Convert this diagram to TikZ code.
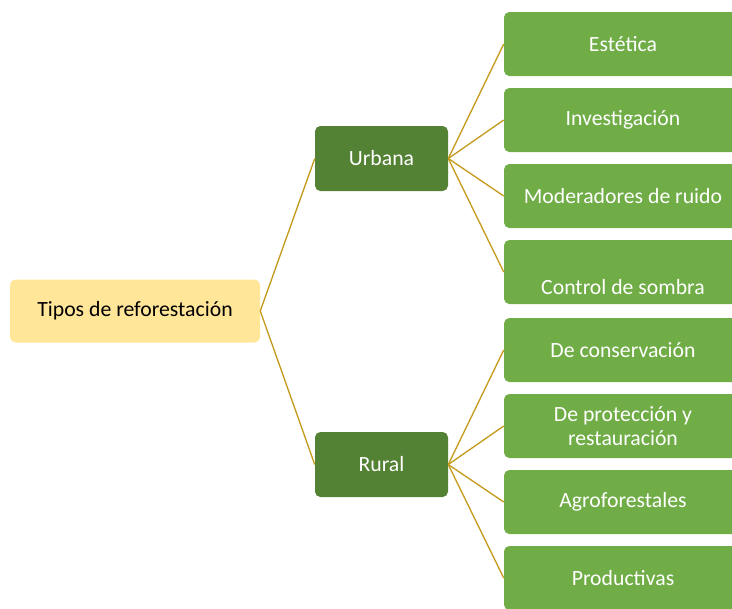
\documentclass[tikz,border=0pt]{standalone}
\usepackage{fontspec}
\setmainfont{Carlito}

\definecolor{rootfill}{RGB}{255,230,153}
\definecolor{midfill}{RGB}{84,130,53}
\definecolor{leaffill}{RGB}{112,173,71}
\definecolor{linkgold}{RGB}{197,155,30}

\begin{document}
\begin{tikzpicture}[x=0.75pt, y=-0.75pt,
    base/.style={rounded corners=4pt, inner sep=0pt, align=center, font=\fontsize{16.3}{18.5}\selectfont},
    rootbox/.style={base, fill=rootfill, text=black, minimum width=187.5pt, minimum height=47.25pt},
    midbox/.style={base, fill=midfill, text=white, minimum width=99.75pt, minimum height=48.75pt},
    leafbox/.style={base, fill=leaffill, text=white, minimum width=178.5pt, minimum height=48pt},
    link/.style={draw=linkgold, line width=1pt}]

    % constants
    \def\xleaf{623}

    % page
    \useasboundingbox (0,0) rectangle (732,608);
    \clip (0,0) rectangle (732,608);

    % root and branches
    \node [rootbox] (tipos) at (135,311) {Tipos de reforestación};
    \node [midbox] (urbana) at (381.5,158.5) {Urbana};
    \node [midbox] (rural) at (381.5,464.5) {Rural};

    % urban leaves
    \node [leafbox] (estetica) at (\xleaf,44) {Estética};
    \node [leafbox] (investigacion) at (\xleaf,120) {Investigación};
    \node [leafbox] (ruido) at (\xleaf,196) {Moderadores de ruido};
    \node [leafbox] (sombra) at (\xleaf,272) {\\[15pt]Control de sombra};

    % rural leaves
    \node [leafbox] (conservacion) at (\xleaf,350) {De conservación};
    \node [leafbox] (proteccion) at (\xleaf,426) {De protección y\\restauración};
    \node [leafbox] (agro) at (\xleaf,502) {Agroforestales};
    \node [leafbox] (productivas) at (\xleaf,578) {Productivas};

    % links
    \draw [link] (tipos.east) -- (urbana.west);
    \draw [link] (tipos.east) -- (rural.west);
    \draw [link] (urbana.east) -- (estetica.west);
    \draw [link] (urbana.east) -- (investigacion.west);
    \draw [link] (urbana.east) -- (ruido.west);
    \draw [link] (urbana.east) -- (sombra.west);
    \draw [link] (rural.east) -- (conservacion.west);
    \draw [link] (rural.east) -- (proteccion.west);
    \draw [link] (rural.east) -- (agro.west);
    \draw [link] (rural.east) -- (productivas.west);

\end{tikzpicture}
\end{document}
